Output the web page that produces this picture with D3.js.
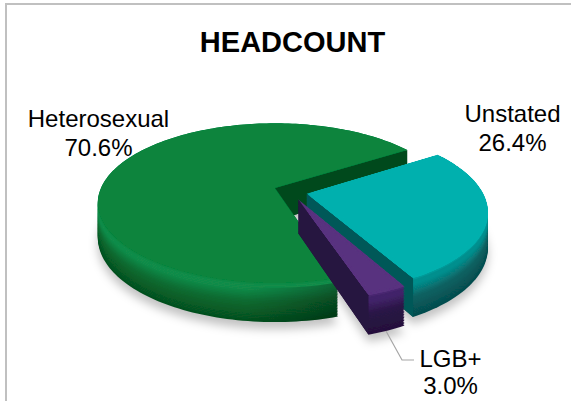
<!DOCTYPE html>
<html><head><meta charset="utf-8">
<script src="https://cdn.jsdelivr.net/npm/d3@7/dist/d3.min.js"></script>
<style>html,body{margin:0;padding:0;background:#fff}svg{display:block}text{font-family:"Liberation Sans",Arial,sans-serif;fill:#000}</style>
</head><body><svg id="c" width="571" height="401"></svg>
<script>
const categories = ["Unstated", "LGB+", "Heterosexual"];
const values = [26.4, 3.0, 70.6];
const valueLabels = ["26.4%", "3.0%", "70.6%"];

const W = 571, H = 401;
const svg = d3.select("#c");
const defs = svg.append("defs");
const cx = 275, cy = 188, R = 174, Ry = 77, k = 0.19;
const startDeg = 57;
const explode = [[0.18, 0.075], [0.13, 0.145], [0, 0]];
const palette = [
  {top:"#02b0ae", rim:"#058f8e", mid:"#0a6262", low:"#064c4e", cut:"#055959"},
  {top:"#58307f", rim:"#42246a", mid:"#2a1646", low:"#25113c", cut:"#27133f"},
  {top:"#07843e", rim:"#128c49", mid:"#0a6b31", low:"#06501f", cut:"#034a1d"}
];

const project = (u, v, z) => {
  const s = 1 / (1 - k * v);
  return [cx + R * u * s, cy + Ry * v * s + z * (33 + 6 * v)];
};
const arcs = d3.pie().sort(null).value(d => d)
  .startAngle(startDeg * Math.PI / 180)
  .endAngle((startDeg + 360) * Math.PI / 180)(values);

const arcPts = (a, i) => {
  const n = Math.max(8, Math.round((a.endAngle - a.startAngle) * 40)), pts = [];
  for (let t = 0; t <= n; t++) {
    const th = a.startAngle + (a.endAngle - a.startAngle) * t / n;
    pts.push([explode[i][0] + Math.sin(th), explode[i][1] - Math.cos(th)]);
  }
  return pts;
};
const line = d3.line();
const facePath = (a, i, z) => {
  const apex = project(explode[i][0], explode[i][1], z);
  return line([apex, ...arcPts(a, i).map(p => project(p[0], p[1], z))]) + "Z";
};
const cutPath = (i, th) => {
  const e = explode[i];
  const u = e[0] + Math.sin(th), v = e[1] - Math.cos(th);
  return line([project(e[0], e[1], 0), project(u, v, 0), project(u, v, 1), project(e[0], e[1], 1)]) + "Z";
};
// a cut face shows only when the slice's own top lies above that cut on screen
const cutVisible = (a, i, th) => {
  const mid = (a.startAngle + a.endAngle) / 2, e = explode[i];
  const A = project(e[0], e[1], 0), B = project(e[0] + Math.sin(th), e[1] - Math.cos(th), 0);
  const inner = th + (mid > th ? 0.2 : -0.2);
  const P = project(e[0] + 0.6 * Math.sin(inner), e[1] - 0.6 * Math.cos(inner), 0);
  const yOnCut = A[1] + (B[1] - A[1]) * (P[0] - A[0]) / (B[0] - A[0]);
  return P[1] < yOnCut;
};

const blur = defs.append("filter").attr("id", "sh").attr("x", "-20%").attr("y", "-30%").attr("width", "140%").attr("height", "160%");
blur.append("feGaussianBlur").attr("stdDeviation", 5);
const soft = defs.append("filter").attr("id", "soft").attr("x", "-5%").attr("y", "-5%").attr("width", "110%").attr("height", "110%");
soft.append("feGaussianBlur").attr("stdDeviation", 0.6);
const round = defs.append("filter").attr("id", "round").attr("x", "-5%").attr("y", "-5%").attr("width", "110%").attr("height", "110%");
round.append("feGaussianBlur").attr("stdDeviation", 2.2).attr("result", "b");
round.append("feComponentTransfer").append("feFuncA").attr("type", "linear").attr("slope", 14).attr("intercept", -6.5);

const grad = defs.append("linearGradient").attr("id", "shade").attr("gradientUnits", "userSpaceOnUse")
  .attr("x1", 95).attr("x2", 345).attr("y1", 0).attr("y2", 0);
grad.append("stop").attr("offset", 0).attr("stop-color", "#000").attr("stop-opacity", 0.0);
grad.append("stop").attr("offset", 0.6).attr("stop-color", "#000").attr("stop-opacity", 0.0);
grad.append("stop").attr("offset", 1).attr("stop-color", "#000").attr("stop-opacity", 0.3);

// frame (top and left edges only are inside the picture)
svg.append("path").attr("d", "M6,401V4H571").attr("fill", "none").attr("stroke", "#c0c0c0").attr("stroke-width", 2);

const gShadow = svg.append("g").attr("filter", "url(#sh)").attr("transform", "translate(0,7)");
arcs.forEach((a, i) => gShadow.append("path").attr("d", facePath(a, i, 1)).attr("fill", "#000").attr("opacity", 0.24));

const chart = svg.append("g").attr("filter", "url(#soft)");
const zStops = d3.range(1, -0.001, -0.04);
[2, 0, 1].forEach(i => {
  const a = arcs[i], c = palette[i];
  const colorAt = d3.scaleLinear().domain([1, 0.5, 0.18, 0.06, 0]).range([c.low, c.mid, c.rim, c.rim, c.top]).interpolate(d3.interpolateRgb);
  const g = chart.append("g").attr("class", "wedge");
  zStops.forEach(z => g.append("path").attr("d", facePath(a, i, z)).attr("fill", colorAt(z)));
  [a.startAngle, a.endAngle].filter(th => cutVisible(a, i, th))
    .forEach(th => g.append("path").attr("d", cutPath(i, th)).attr("fill", c.cut));
  if (i === 2) {
    const pts = arcPts(a, i).filter(p => p[1] > 0.2);
    const wall = [...pts.map(p => project(p[0], p[1], 0.12)), ...pts.slice().reverse().map(p => project(p[0], p[1], 1))];
    g.append("path").attr("d", line(wall) + "Z").attr("fill", "url(#shade)");
  }
  g.append("path").attr("d", facePath(a, i, 0)).attr("fill", c.top).attr("filter", i === 2 ? null : "url(#round)");
});

const text = (s, x, y, size, w) => svg.append("text").attr("x", x).attr("y", y)
  .attr("text-anchor", "middle").attr("font-size", size).attr("font-weight", w || 400).text(s);
text("HEADCOUNT", 292.5, 52, 29, 700);
const labelPos = [[512.5, 122, 151], [450.5, 367, 393.5], [98.5, 127, 156]];
categories.forEach((n, i) => {
  text(n, labelPos[i][0], labelPos[i][1], 24);
  text(valueLabels[i], labelPos[i][0], labelPos[i][2], 24);
});
svg.append("polyline").attr("points", "386,331 402,360 414,360").attr("fill", "none")
  .attr("stroke", "#a6a6a6").attr("stroke-width", 1.2);
</script></body></html>
